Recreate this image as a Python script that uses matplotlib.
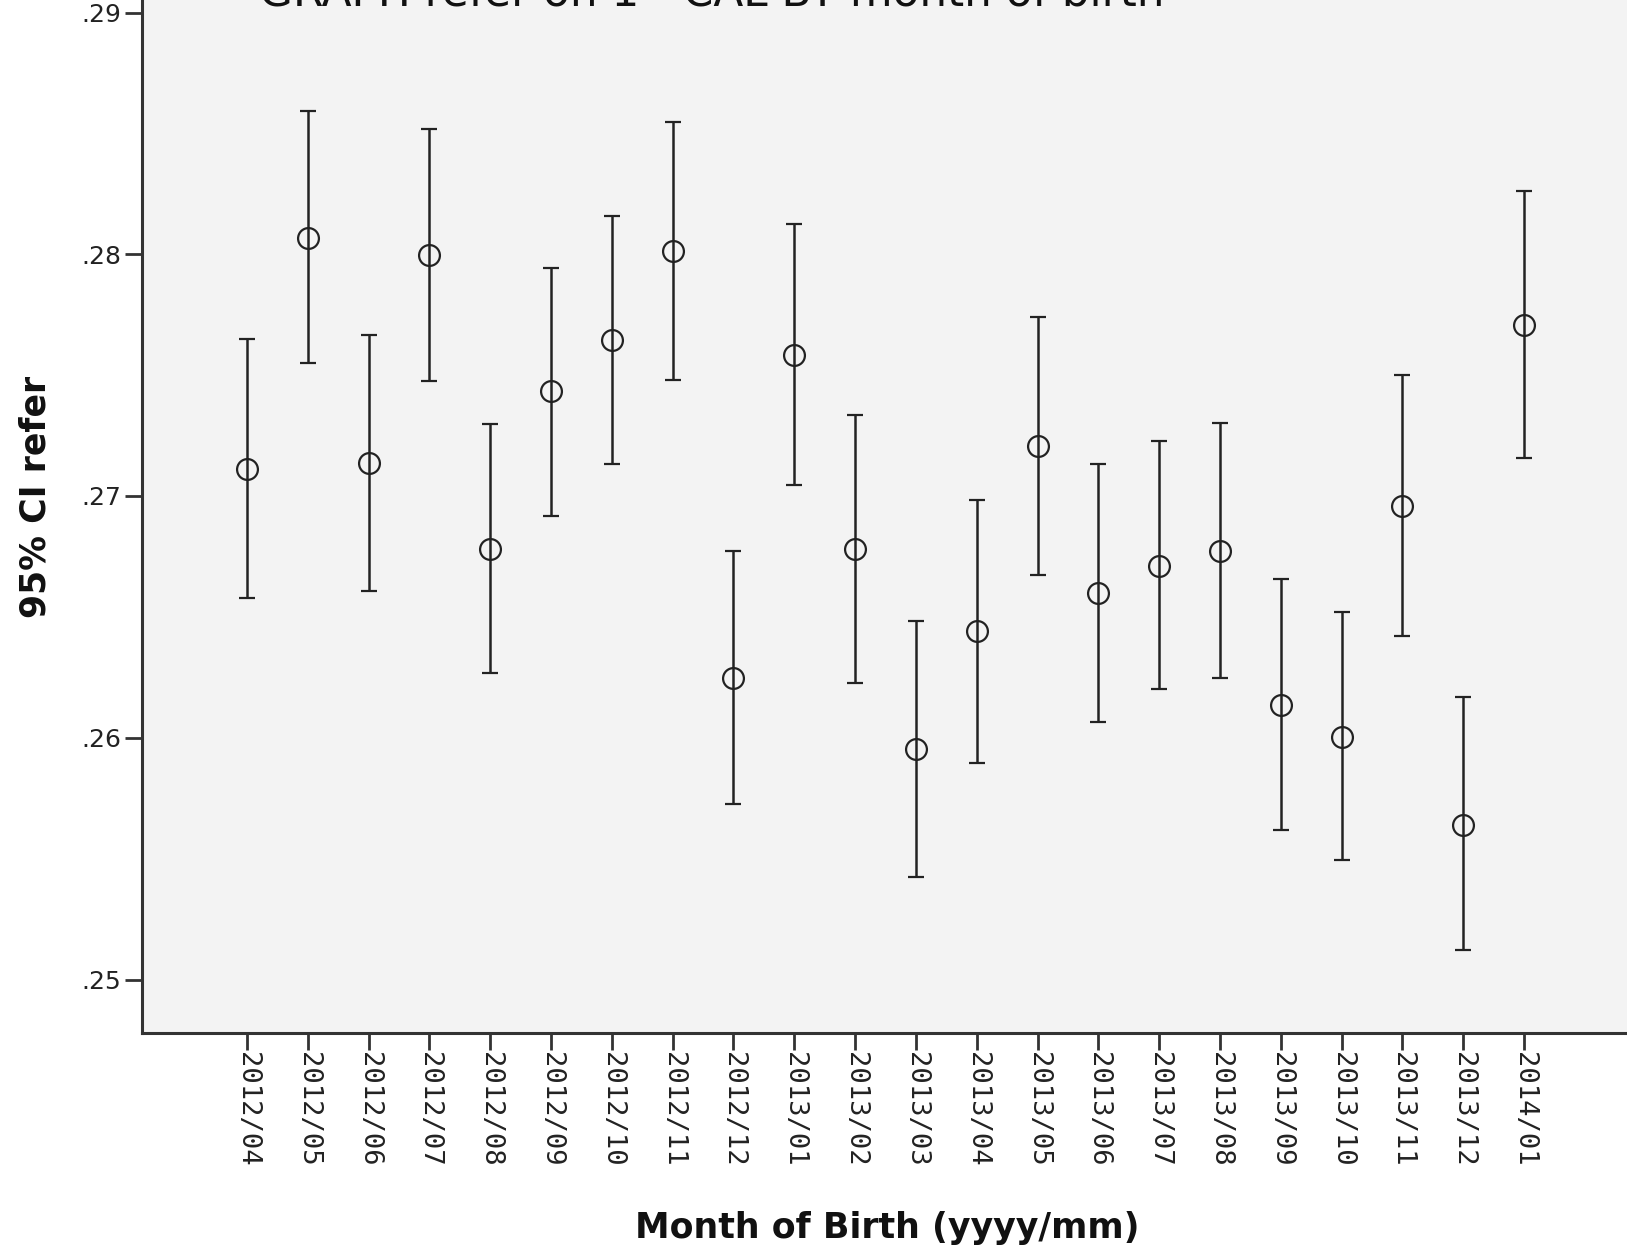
import numpy as np
import matplotlib.pyplot as plt

# Month of birth categories
months = ["2012/04", "2012/05", "2012/06", "2012/07", "2012/08", "2012/09",
          "2012/10", "2012/11", "2012/12", "2013/01", "2013/02", "2013/03",
          "2013/04", "2013/05", "2013/06", "2013/07", "2013/08", "2013/09",
          "2013/10", "2013/11", "2013/12", "2014/01"]

# mean of refer and 95% CI bounds
mean_refer = [0.27112, 0.28069, 0.27137, 0.27996, 0.26781, 0.27433,
              0.27644, 0.28013, 0.26249, 0.27584, 0.26781, 0.25953,
              0.26442, 0.27206, 0.26597, 0.26712, 0.26773, 0.26137,
              0.26004, 0.26957, 0.25639, 0.27708]
ci_upper = [0.27648, 0.28592, 0.27665, 0.28519, 0.27296, 0.27944,
            0.28159, 0.28549, 0.26773, 0.28124, 0.27335, 0.26481,
            0.26983, 0.27742, 0.27133, 0.27227, 0.27300, 0.26657,
            0.26519, 0.27502, 0.26167, 0.28262]
ci_lower = [0.26579, 0.27549, 0.26609, 0.27476, 0.26266, 0.26918,
            0.27133, 0.27481, 0.25725, 0.27047, 0.26227, 0.25425,
            0.25897, 0.26674, 0.26064, 0.26202, 0.26249, 0.25618,
            0.25494, 0.26421, 0.25120, 0.27159]

yticks = [0.25, 0.26, 0.27, 0.28, 0.29]
ytick_labels = [".25", ".26", ".27", ".28", ".29"]

W, H = 1627, 1257
fig = plt.figure(figsize=(W / 100, H / 100), dpi=100)

# axes frame in pixels: left 142, bottom 1033 (from top), extends past top/right
left, right, bottom_px = 142, 1629, 1033
top_px = -40
ax = fig.add_axes([left / W, 1 - bottom_px / H, (right - left) / W, (bottom_px - top_px) / H])
ax.set_facecolor("#f3f3f3")

x = np.arange(len(months))
mean = np.array(mean_refer)
err = np.vstack([mean - np.array(ci_lower), np.array(ci_upper) - mean])

ax.errorbar(x, mean, yerr=err, fmt="o", color="#222222", mfc="none", mec="#222222",
            markersize=15, markeredgewidth=1.6, elinewidth=1.8, capsize=5.5,
            capthick=2.2, ecolor="#222222")

# y range: .29 at 12.5 px, .25 at 979.5 px
px_per = (979.5 - 12.5) / 0.04
ymin = 0.25 - (bottom_px - 979.5) / px_per
ymax = 0.29 + (12.5 - top_px) / px_per
ax.set_ylim(ymin, ymax)

step = (1524 - 247) / 21
ax.set_xlim(-(247 - left) / step, 21 + (right - 1524) / step)

ax.set_xticks(x)
ax.set_xticklabels(months, rotation=270, fontsize=19.5, color="#222222",
                   family="DejaVu Sans Mono")
ax.set_yticks(yticks)
ax.set_yticklabels(ytick_labels, fontsize=18, color="#222222")
ax.tick_params(axis="y", length=12, width=2, pad=3, color="#333333")
ax.tick_params(axis="x", length=12, width=2, pad=2, color="#333333")

for s in ["top", "right"]:
    ax.spines[s].set_visible(False)
for s in ["left", "bottom"]:
    ax.spines[s].set_linewidth(2.2)
    ax.spines[s].set_color("#333333")

fig.text(36 / W, 1 - 497 / H, "95% CI refer", rotation=90, fontsize=25,
         fontweight="bold", ha="center", va="center", color="#111111")
fig.text(887 / W, 1 - 1228 / H, "Month of Birth (yyyy/mm)", fontsize=25,
         fontweight="bold", ha="center", va="center", color="#111111")

# title, mostly cut off at the top edge
fig.text(259 / W, 1 - 6 / H, "GRAPH refer on 1 - CAL BY month of birth",
         fontsize=31.5, ha="left", va="baseline", color="#111111")

fig.savefig("out.png", dpi=100)
